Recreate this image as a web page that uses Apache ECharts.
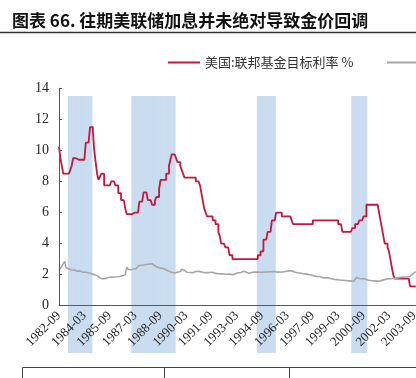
<!DOCTYPE html>
<html>
<head>
<meta charset="utf-8">
<script src="https://cdn.jsdelivr.net/npm/echarts@6/dist/echarts.min.js"></script>
<style>
  html, body { margin: 0; padding: 0; background: #fff; }
  #chart { width: 416px; height: 378px; }
</style>
</head>
<body>
<div id="chart"></div>
<script>
// monthly categories, 1982-09 onwards (axis runs past the right edge of the crop)
const months = [];
for (let y = 1982, m = 9; y < 2005; m++) {
  if (m > 12) { m = 1; y++; if (y >= 2005) break; }
  months.push(y + "-" + String(m).padStart(2, "0"));
}

// 美国:联邦基金目标利率 %, one value per month
const fedRate = [
  10.25, 9.5, 9.0, 8.5, 8.5, 8.5, 8.5, 8.625, 8.75, 9.0,
  9.5, 9.5, 9.4, 9.4, 9.4, 9.4, 9.4, 9.4, 9.4, 10.5,
  10.5, 10.5, 11.5, 11.5, 11.25, 10.0, 9.25, 8.5, 8.1, 8.3,
  8.5, 8.5, 7.75, 7.75, 7.75, 7.75, 7.75, 8.0, 8.0, 8.0,
  7.75, 7.75, 7.25, 7.25, 6.8, 6.8, 6.8, 6.25, 5.9, 5.9,
  5.9, 5.9, 6.0, 6.0, 6.0, 6.0, 6.0, 6.7, 6.7, 6.7,
  7.3, 7.3, 7.3, 6.8, 6.8, 6.8, 6.5, 6.5, 6.75, 7.0,
  7.0, 7.5, 8.1, 8.1, 8.1, 8.1, 8.5, 8.5, 9.0, 9.4,
  9.75, 9.75, 9.75, 9.5, 9.25, 9.25, 9.0, 8.75, 8.5, 8.25,
  8.25, 8.25, 8.25, 8.25, 8.25, 8.25, 8.25, 8.0, 8.0, 8.0,
  7.75, 7.25, 6.75, 6.25, 6.0, 5.75, 5.75, 5.75, 5.75, 5.5,
  5.5, 5.25, 5.25, 4.75, 4.5, 4.0, 4.0, 4.0, 3.75, 3.75,
  3.75, 3.25, 3.25, 3.0, 3.0, 3.0, 3.0, 3.0, 3.0, 3.0,
  3.0, 3.0, 3.0, 3.0, 3.0, 3.0, 3.0, 3.0, 3.0, 3.0,
  3.0, 3.25, 3.25, 3.5, 3.5, 4.25, 4.25, 4.25, 4.75, 4.75,
  4.75, 5.5, 5.5, 5.5, 6.0, 6.0, 6.0, 6.0, 5.75, 5.75,
  5.75, 5.75, 5.75, 5.75, 5.75, 5.5, 5.25, 5.25, 5.25, 5.25,
  5.25, 5.25, 5.25, 5.25, 5.25, 5.25, 5.25, 5.25, 5.25, 5.25,
  5.5, 5.5, 5.5, 5.5, 5.5, 5.5, 5.5, 5.5, 5.5, 5.5,
  5.5, 5.5, 5.5, 5.5, 5.5, 5.5, 5.5, 5.5, 5.25, 5.25,
  5.25, 4.75, 4.75, 4.75, 4.75, 4.75, 4.75, 4.75, 5.0, 5.0,
  5.25, 5.25, 5.25, 5.5, 5.5, 5.5, 5.75, 5.75, 6.5, 6.5,
  6.5, 6.5, 6.5, 6.5, 6.5, 6.5, 6.5, 6.0, 5.5, 5.0,
  4.5, 4.0, 4.0, 3.75, 3.5, 3.0, 2.5, 2.0, 1.75, 1.75,
  1.75, 1.75, 1.75, 1.75, 1.75, 1.75, 1.75, 1.75, 1.75, 1.25,
  1.25, 1.25, 1.25, 1.25
];

// grey series (name cut off in the crop), monthly values
const goldLine = [
  2.30, 2.42, 2.55, 2.62, 2.85, 2.45, 2.40, 2.36, 2.42, 2.30,
  2.35, 2.30, 2.26, 2.22, 2.18, 2.24, 2.20, 2.15, 2.22, 2.16,
  2.10, 2.12, 2.08, 2.05, 2.02, 2.00, 1.95, 1.92, 1.85, 1.80,
  1.76, 1.72, 1.70, 1.75, 1.78, 1.82, 1.80, 1.84, 1.82, 1.85,
  1.83, 1.86, 1.84, 1.88, 1.90, 1.92, 1.97, 2.00, 2.48, 2.35,
  2.25, 2.32, 2.40, 2.36, 2.44, 2.40, 2.55, 2.52, 2.60, 2.56,
  2.62, 2.58, 2.65, 2.72, 2.68, 2.74, 2.70, 2.62, 2.57, 2.52,
  2.48, 2.45, 2.42, 2.44, 2.40, 2.36, 2.30, 2.25, 2.22, 2.18,
  2.15, 2.12, 2.10, 2.14, 2.16, 2.13, 2.20, 2.35, 2.32, 2.28,
  2.22, 2.15, 2.18, 2.14, 2.16, 2.12, 2.15, 2.20, 2.25, 2.22,
  2.26, 2.18, 2.14, 2.12, 2.15, 2.13, 2.10, 2.14, 2.12, 2.15,
  2.11, 2.08, 2.05, 2.06, 2.03, 2.05, 2.02, 2.04, 2.00, 2.03,
  2.01, 2.04, 2.02, 2.00, 2.03, 2.05, 2.08, 2.12, 2.16, 2.14,
  2.18, 2.22, 2.20, 2.16, 2.10, 2.08, 2.12, 2.15, 2.18, 2.16,
  2.20, 2.17, 2.19, 2.15, 2.18, 2.16, 2.19, 2.17, 2.15, 2.18,
  2.16, 2.19, 2.17, 2.20, 2.18, 2.16, 2.19, 2.17, 2.15, 2.18,
  2.20, 2.22, 2.19, 2.24, 2.28, 2.25, 2.20, 2.17, 2.15, 2.12,
  2.14, 2.10, 2.08, 2.06, 2.09, 2.05, 2.03, 2.00, 2.02, 1.98,
  1.95, 1.92, 1.90, 1.88, 1.85, 1.88, 1.83, 1.80, 1.82, 1.79,
  1.78, 1.80, 1.76, 1.74, 1.72, 1.70, 1.73, 1.68, 1.70, 1.66,
  1.68, 1.64, 1.66, 1.62, 1.64, 1.60, 1.62, 1.60, 1.58, 1.57,
  1.62, 1.82, 1.70, 1.75, 1.72, 1.74, 1.70, 1.72, 1.68, 1.66,
  1.64, 1.62, 1.63, 1.60, 1.62, 1.58, 1.60, 1.58, 1.62, 1.63,
  1.65, 1.68, 1.70, 1.73, 1.71, 1.74, 1.72, 1.75, 1.73, 1.76,
  1.78, 1.80, 1.82, 1.84, 1.82, 1.85, 1.83, 1.86, 1.84, 1.88,
  1.95, 2.05, 2.12, 2.20
];

// shaded hiking periods (first and last month of each band)
const hikePeriods = [
  ["1983-04", "1984-08"],
  ["1987-01", "1989-07"],
  ["1994-06", "1995-06"],
  ["2000-01", "2000-11"]
];

const shade = months.map(function (m) {
  return hikePeriods.some(function (p) { return m >= p[0] && m <= p[1]; }) ? 1 : null;
});

const serif = '"Liberation Serif", serif';
const cjk = '"Noto Sans CJK SC"';
const redName = "美国:联邦基金目标利率 %";
const greyName = "伦敦现货黄金价格";
// axis is wider than the crop: 1.41px per month, starting at x=59
const gridRight = 416 - 59 - (months.length - 1) * 1.41;

const chart = echarts.init(document.getElementById("chart"), null, { renderer: "canvas" });
chart.setOption({
  animation: false,
  backgroundColor: "#fff",
  legend: [
    {
      left: 163, top: 51, itemWidth: 32, itemHeight: 2, icon: "rect",
      textStyle: { fontFamily: cjk, fontSize: 13, color: "#333" },
      data: [redName]
    },
    {
      left: 382, top: 51, itemWidth: 32, itemHeight: 2, icon: "rect",
      textStyle: { fontFamily: cjk, fontSize: 13, color: "#333" },
      data: [greyName]
    }
  ],
  grid: [
    { left: 59, right: gridRight, top: 88.3, bottom: 72.3, outerBoundsMode: "none" },
    { left: 59, right: gridRight, top: 96, bottom: 25, outerBoundsMode: "none" }
  ],
  xAxis: [
    {
      gridIndex: 0,
      type: "category",
      data: months,
      boundaryGap: false,
      z: 5,
      axisLine: { lineStyle: { color: "#595959", width: 1 } },
      axisTick: { show: false },
      axisLabel: {
        interval: 17,
        rotate: 45,
        margin: 8,
        fontFamily: serif,
        fontSize: 13,
        color: "#262626"
      }
    },
    { gridIndex: 1, type: "category", data: months, boundaryGap: false, show: false }
  ],
  yAxis: [
    {
      gridIndex: 0,
      type: "value",
      min: 0,
      max: 14,
      interval: 2,
      z: 5,
      axisLine: { show: true, lineStyle: { color: "#595959", width: 1 } },
      axisTick: { show: true, inside: true, length: 3, lineStyle: { color: "#595959" } },
      splitLine: { show: false },
      axisLabel: { fontFamily: serif, fontSize: 14, color: "#262626", margin: 10 }
    },
    { gridIndex: 1, type: "value", min: 0, max: 1, show: false }
  ],
  series: [
    {
      name: "hike",
      type: "bar",
      xAxisIndex: 1,
      yAxisIndex: 1,
      data: shade,
      barWidth: 2,
      z: 1,
      silent: true,
      itemStyle: { color: "#c9dcf0" }
    },
    {
      name: redName,
      type: "line",
      step: "end",
      data: fedRate,
      symbol: "none",
      z: 3,
      lineStyle: { color: "#c8173a", width: 1.8 },
      itemStyle: { color: "#c8173a" }
    },
    {
      name: greyName,
      type: "line",
      data: goldLine,
      symbol: "none",
      z: 3,
      lineStyle: { color: "#a6a6a6", width: 1.6 },
      itemStyle: { color: "#a6a6a6" }
    }
  ],
  graphic: [
    {
      type: "text",
      left: 12,
      top: 12,
      style: {
        text: "图表 66. 往期美联储加息并未绝对导致金价回调",
        font: "bold 17px " + cjk,
        fill: "#111"
      }
    },
    { type: "line", shape: { x1: 0, y1: 32.5, x2: 416, y2: 32.5 }, style: { stroke: "#333", lineWidth: 1.6 } },
    // table frame peeking in at the bottom
    { type: "line", shape: { x1: 22.5, y1: 367.5, x2: 416, y2: 367.5 }, style: { stroke: "#444", lineWidth: 1 } },
    { type: "line", shape: { x1: 22.5, y1: 367.5, x2: 22.5, y2: 378 }, style: { stroke: "#444", lineWidth: 1 } },
    { type: "line", shape: { x1: 164.5, y1: 367.5, x2: 164.5, y2: 378 }, style: { stroke: "#444", lineWidth: 1 } },
    { type: "line", shape: { x1: 289.5, y1: 367.5, x2: 289.5, y2: 378 }, style: { stroke: "#444", lineWidth: 1 } }
  ]
});
</script>
</body>
</html>
